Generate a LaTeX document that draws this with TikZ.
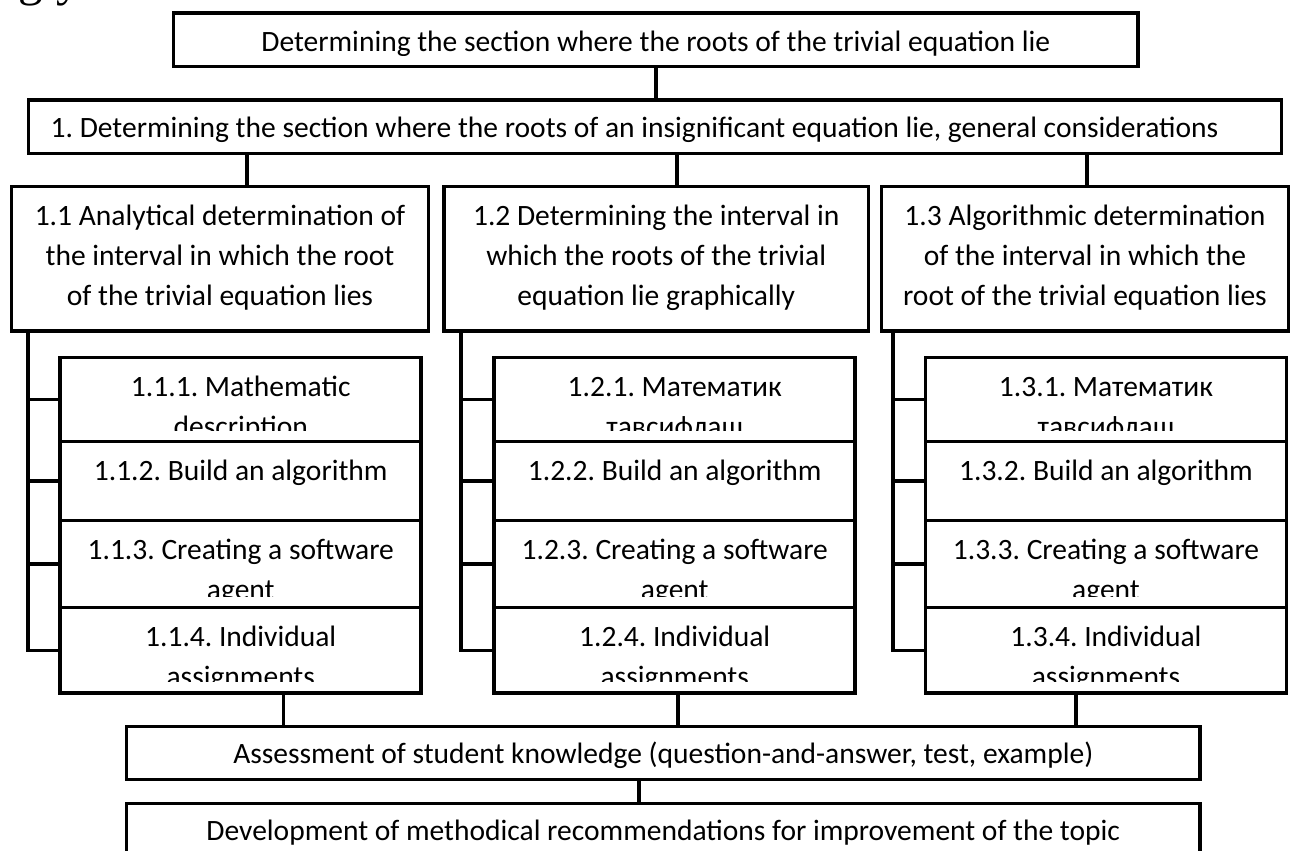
\documentclass[tikz,border=0pt]{standalone}
\usepackage{fontspec}
\setmainfont{Carlito}
\newfontfamily\fragfont{Liberation Serif}
\usepackage{tikz}

\tikzset{
	box/.style 2 args={draw, line width=1pt, rectangle, inner sep=0pt,
		minimum width=#1, minimum height=#2},
	txt/.style={inner sep=0pt,
		font=\fontsize{8.4pt}{11.4pt}\selectfont\frenchspacing},
	link/.style={line width=1pt}
}

% text of a box, cut off a little above its lower edge
\newcommand{\cliptext}[3][]{%
	\begin{scope}
		\clip (#2.north west) rectangle ([yshift=1.3mm]#2.south east);
		\node[txt, anchor=base, #1] (#2-txt) at ([yshift=-4.1mm]#2.north)
			{\begin{tabular}[t]{@{}c@{}}#3\end{tabular}};
	\end{scope}}

\begin{document}
\begin{tikzpicture}
	\useasboundingbox (0,0) rectangle (12.92,-8.51);

	% line of the page above
	\node[font=\fragfont\fontsize{14pt}{16pt}\selectfont, anchor=base west, inner sep=0pt] (frag) at (0.18,0.05) {gly};

	% top levels
	\node[box={9.645cm}{0.535cm}] (root) at (6.5575,-0.3975) {};
	\node[box={12.53cm}{0.535cm}] (general) at (6.55,-1.2675) {};
	\cliptext[yshift=0.1mm]{root}{Determining the section where the roots of the trivial equation lie}
	\cliptext[anchor=base west, xshift=-6.05cm, yshift=0.2mm]{general}{1. Determining the section where the roots of an insignificant equation lie, general considerations}
	\draw[link] (root.south) -- (root.south |- general.north);

	% the three methods
	\node[box={4.17cm}{1.445cm}] (anal) at (2.20,-2.5875) {};
	\node[box={4.245cm}{1.445cm}] (graph) at (6.5625,-2.5875) {};
	\node[box={4.07cm}{1.445cm}] (algo) at (10.85,-2.5875) {};
	\cliptext{anal}{1.1 Analytical determination of\\the interval in which the root\\of the trivial equation lies}
	\cliptext{graph}{1.2 Determining the interval in\\which the roots of the trivial\\equation lie graphically}
	\cliptext{algo}{1.3 Algorithmic determination\\of the interval in which the\\root of the trivial equation lies}
	\draw[link] ([xshift=2.7mm]anal.north) -- ([xshift=2.7mm]anal.north |- general.south);
	\draw[link] ([xshift=2.1mm]graph.north) -- ([xshift=2.1mm]graph.north |- general.south);
	\draw[link] ([xshift=0.2mm]algo.north) -- ([xshift=0.2mm]algo.north |- general.south);

	% steps under each method
	\foreach \col/\cx/\n/\sp in {anal/2.4075/1/1.85mm, graph/6.7475/2/1.9mm, algo/11.06/3/1.3mm} {
		\node[box={3.61cm}{0.84cm}] (\col1) at (\cx,-3.995) {};
		\node[box={3.61cm}{0.79cm}] (\col2) at (\cx,-4.81) {};
		\node[box={3.61cm}{0.87cm}] (\col3) at (\cx,-5.64) {};
		\node[box={3.61cm}{0.855cm}] (\col4) at (\cx,-6.5025) {};
		\cliptext{\col2}{1.\n.2. Build an algorithm}
		\cliptext{\col3}{1.\n.3. Creating a software\\agent}
		\cliptext{\col4}{1.\n.4. Individual\\assignments}
		\draw[link] ([xshift=\sp]\col.south west) coordinate (\col-sp) |- (\col4.west);
		\draw[link] (\col1.west) -- (\col1.west -| \col-sp);
		\draw[link] (\col2.west) -- (\col2.west -| \col-sp);
		\draw[link] (\col3.west) -- (\col3.west -| \col-sp);
	}
	\cliptext{anal1}{1.1.1. Mathematic\\description}
	\cliptext{graph1}{1.2.1. Математик\\тавсифлаш}
	\cliptext{algo1}{1.3.1. Математик\\тавсифлаш}

	% assessment and recommendations
	\node[box={10.735cm}{0.53cm}] (assess) at (6.6325,-7.53) {};
	\node[box={10.735cm}{0.535cm}] (recom) at (6.6325,-8.3025) {};
	\cliptext[yshift=0.2mm]{assess}{Assessment of student knowledge (question-and-answer, test, example)}
	\cliptext[yshift=0.2mm]{recom}{Development of methodical recommendations for improvement of the topic}
	\draw[link] ([xshift=4.28mm]anal4.south) -- ([xshift=4.28mm]anal4.south |- assess.north);
	\draw[link] ([xshift=0.3mm]graph4.south) -- ([xshift=0.3mm]graph4.south |- assess.north);
	\draw[link] ([xshift=-3mm]algo4.south) -- ([xshift=-3mm]algo4.south |- assess.north);
	\draw[link] ([xshift=-2.4mm]assess.south) -- ([xshift=-2.4mm]assess.south |- recom.north);
\end{tikzpicture}
\end{document}
